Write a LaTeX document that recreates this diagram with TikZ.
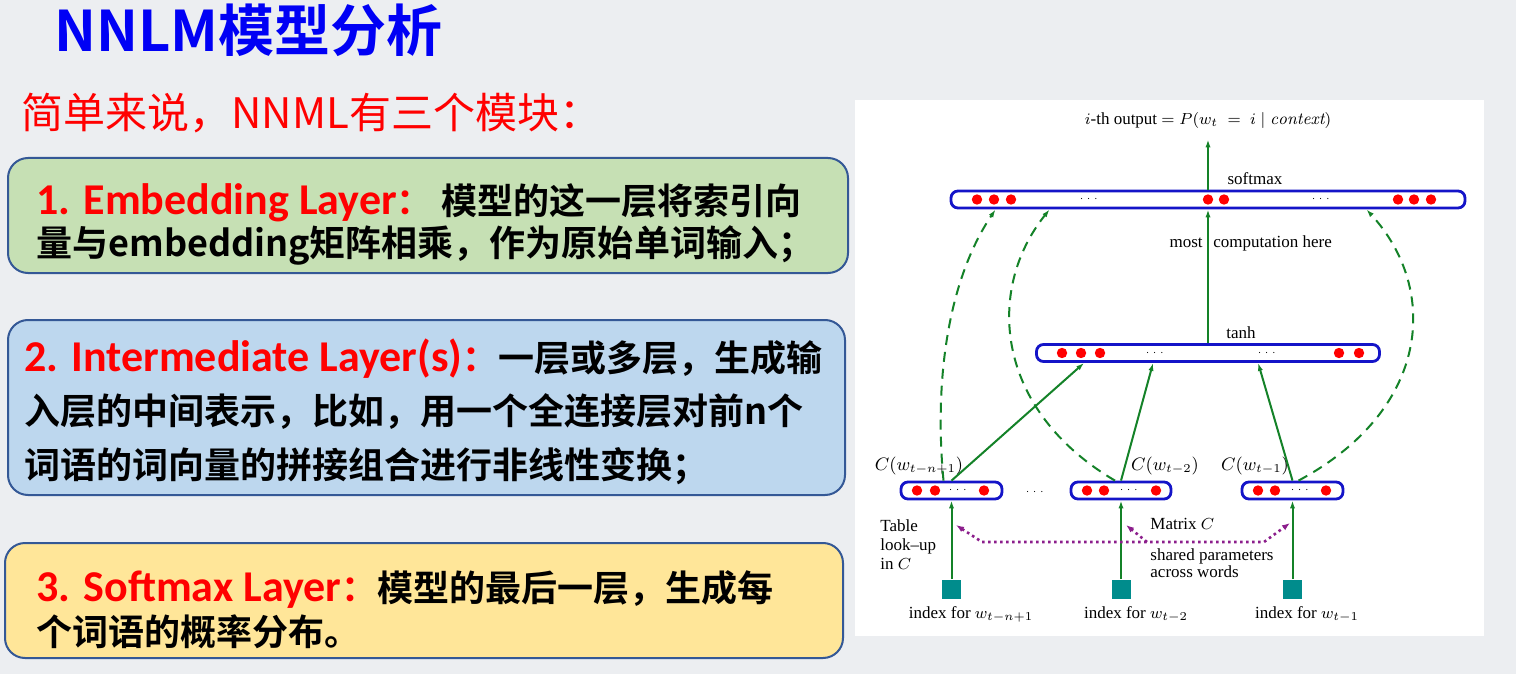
\documentclass[tikz,border=0pt]{standalone}
\usepackage{amsmath}
\usepackage{fontspec}
\usepackage{xcolor}
\usepackage{tikz}
\usetikzlibrary{
	arrows.meta
}
\newfontfamily\cjk{Noto Sans CJK SC}[BoldFont=* Bold]
\newfontfamily\carlito{Carlito}
\newfontfamily\tms{Liberation Serif}
\definecolor{BgGray}{RGB}{236,238,241}
\definecolor{TitleBlue}{RGB}{0,0,245}
\definecolor{CardEdge}{RGB}{52,88,150}
\definecolor{CardGreen}{RGB}{198,224,180}
\definecolor{CardBlue}{RGB}{189,215,238}
\definecolor{CardYellow}{RGB}{255,230,153}
\definecolor{BarBlue}{RGB}{20,20,200}
\definecolor{DiaGreen}{RGB}{20,130,40}
\definecolor{DiaPurple}{RGB}{140,30,140}
\definecolor{Teal}{RGB}{0,140,140}
\newcommand{\redhead}[1]{{\carlito\fontsize{22pt}{22pt}\selectfont\color{red}#1}{\color{red}：}}

\begin{document}
\begin{tikzpicture}[x=0.5pt,y=-0.5pt,
	bar/.style={draw=BarBlue,line width=1.4pt,rounded corners=3.5pt,fill=white,minimum height=8.5pt,inner sep=0pt},
	card/.style={draw=CardEdge,line width=1pt,rounded corners=10pt,inner sep=0pt},
	cardtext/.style={anchor=west,align=left,inner sep=0pt,font=\cjk\bfseries\fontsize{18pt}{#1}\selectfont},
	flow/.style={DiaGreen,line width=1pt,-{Latex[length=4pt,width=2.6pt]}},
	dashflow/.style={flow,dash pattern=on 5pt off 3.5pt},
	share/.style={DiaPurple,line width=1.3pt,dash pattern=on 1.3pt off 1.7pt},
	idx/.style={fill=Teal,minimum size=9.5pt,inner sep=0pt},
	lbl/.style={font=\tms\fontsize{8.5pt}{10pt}\selectfont,inner sep=1pt},
	gap/.style={font=\tiny,inner sep=0pt}]
	\useasboundingbox (0,0) rectangle (1516,674);
	\fill[BgGray] (0,0) rectangle (1516,674);
	
	% left half
	\node[anchor=west,text=TitleBlue,inner sep=0pt,font=\cjk\bfseries\fontsize{28pt}{32pt}\selectfont] (title) at (54,30) {NNLM模型分析};
	\node[anchor=west,text=red,inner sep=0pt,font=\cjk\fontsize{21pt}{24pt}\selectfont] (intro) at (21,113) {简单来说，NNML有三个模块：};
	
	\node[card,fill=CardGreen,minimum width=420pt,minimum height=57.5pt] (emb) at (428,215.5) {};
	\node[cardtext=21pt] (embtxt) at (36,224) {\redhead{1. Embedding Layer}\ 模型的这一层将索引向\\量与embedding矩阵相乘，作为原始单词输入；};
	
	\node[card,fill=CardBlue,minimum width=418.5pt,minimum height=87.5pt] (mid) at (426.5,407.5) {};
	\node[cardtext=26.7pt] (midtxt) at (24,411.5) {\redhead{2. Intermediate Layer(s)}一层或多层，生成输\\入层的中间表示，比如，用一个全连接层对前n个\\词语的词向量的拼接组合进行非线性变换；};
	
	\node[card,fill=CardYellow,minimum width=419pt,minimum height=57.5pt] (sm) at (424,600.5) {};
	\node[cardtext=22pt] (smtxt) at (36,610) {\redhead{3. Softmax Layer}模型的最后一层，生成每\\个词语的概率分布。};
	
	% right half
	\fill[white] (855,100) rectangle (1484,636);
	
	\node[lbl] (out) at (1208,121) {$i$-th output $=P(w_t\;=\;i\mid \mathit{context})$};
	
	\node[bar,minimum width=257pt] (soft) at (1208,199.5) {};
	\fill[red] (977,199.5) circle (2.6pt) (994,199.5) circle (2.6pt) (1011,199.5) circle (2.6pt)
		(1208,199.5) circle (2.6pt) (1224,199.5) circle (2.6pt)
		(1398,199.5) circle (2.6pt) (1414,199.5) circle (2.6pt) (1431,199.5) circle (2.6pt);
	\node[gap] (se1) at (1090,199.5) {$\cdots$};
	\node[gap] (se2) at (1322,199.5) {$\cdots$};
	\node[lbl] (softlbl) at (1255,179) {softmax};
	
	\node[bar,minimum width=171.5pt] (tanh) at (1208,353) {};
	\fill[red] (1062,353) circle (2.6pt) (1081,353) circle (2.6pt) (1100,353) circle (2.6pt)
		(1339,353) circle (2.6pt) (1359,353) circle (2.6pt);
	\node[gap] (te1) at (1156,353) {$\cdots$};
	\node[gap] (te2) at (1268,353) {$\cdots$};
	\node[lbl] (tanhlbl) at (1241,333) {tanh};
	
	\draw[flow] (tanh.north) -- (soft.south);
	\draw[flow] (soft.north) -- ([yshift=-4pt]out.south);
	\node[lbl,anchor=east] (most) at (1205,243) {most};
	\node[lbl,anchor=west] (comp) at (1211,243) {computation here};
	
	\node[bar,minimum width=50.5pt] (c1) at (951.5,490.5) {};
	\node[bar,minimum width=50pt] (c2) at (1121,490.5) {};
	\node[bar,minimum width=50.5pt] (c3) at (1292.5,490.5) {};
	\fill[red] (917,490.5) circle (2.6pt) (935,490.5) circle (2.6pt) (984,490.5) circle (2.6pt)
		(1087,490.5) circle (2.6pt) (1104,490.5) circle (2.6pt) (1156,490.5) circle (2.6pt)
		(1258,490.5) circle (2.6pt) (1275,490.5) circle (2.6pt) (1326,490.5) circle (2.6pt);
	\node[gap] (ce1) at (959,490.5) {$\cdots$};
	\node[gap] (ce2) at (1130,490.5) {$\cdots$};
	\node[gap] (ce3) at (1301,490.5) {$\cdots$};
	\node[gap] (cgap) at (1036,492) {$\cdots$};
	\node[lbl,font=\fontsize{9pt}{11pt}\selectfont] (c1lbl) at (919,466) {$C(w_{t-n+1})$};
	\node[lbl,font=\fontsize{9pt}{11pt}\selectfont] (c2lbl) at (1165,466) {$C(w_{t-2})$};
	\node[lbl,font=\fontsize{9pt}{11pt}\selectfont] (c3lbl) at (1255,466) {$C(w_{t-1})$};
	
	\draw[flow] (c1.north) -- ([xshift=24.5pt]tanh.south west);
	\draw[flow] (c2.north) -- ([xshift=59pt]tanh.south west);
	\draw[flow] (c3.north) -- ([xshift=111.5pt]tanh.south west);
	
	\draw[dashflow] ([xshift=-4pt]c1.north) .. controls (934,380) and (948,280) .. ([xshift=23pt]soft.south west);
	\draw[dashflow] ([xshift=-3pt]c2.north) .. controls (995,410) and (985,290) .. ([xshift=50pt]soft.south west);
	\draw[dashflow] ([xshift=3pt]c3.north) .. controls (1430,410) and (1440,290) .. ([xshift=-50pt]soft.south east);
	
	\node[idx] (s1) at (951.5,589) {};
	\node[idx] (s2) at (1121,589) {};
	\node[idx] (s3) at (1292.5,589) {};
	\draw[flow] (s1.north) -- (c1.south);
	\draw[flow] (s2.north) -- (c2.south);
	\draw[flow] (s3.north) -- (c3.south);
	\node[lbl,anchor=north] (i1) at (971,604) {index for $w_{t-n+1}$};
	\node[lbl,anchor=north] (i2) at (1136,604) {index for $w_{t-2}$};
	\node[lbl,anchor=north] (i3) at (1307,604) {index for $w_{t-1}$};
	
	\node[lbl,anchor=north west,align=left,font=\tms\fontsize{8.5pt}{9.5pt}\selectfont] (look) at (878,517) {Table\\look–up\\in $C$};
	\node[lbl,anchor=west] (mat) at (1148,524) {Matrix $C$};
	\node[lbl,anchor=north west,align=left,font=\tms\fontsize{8.5pt}{8.5pt}\selectfont] (shared) at (1148,546) {shared parameters\\across words};
	
	\coordinate (pl) at (982,542);
	\coordinate (pm) at (1147,542);
	\coordinate (pr) at (1264,542);
	\coordinate (tl) at (956,525);
	\coordinate (tm) at (1126,525);
	\coordinate (tr) at (1290,523);
	\draw[share,{Latex[length=4pt,width=3pt]}-{Latex[length=4pt,width=3pt]}] (tl) -- (pl) -- (pr) -- (tr);
	\draw[share,-{Latex[length=4pt,width=3pt]}] (pm) -- (tm);
\end{tikzpicture}
\end{document}
